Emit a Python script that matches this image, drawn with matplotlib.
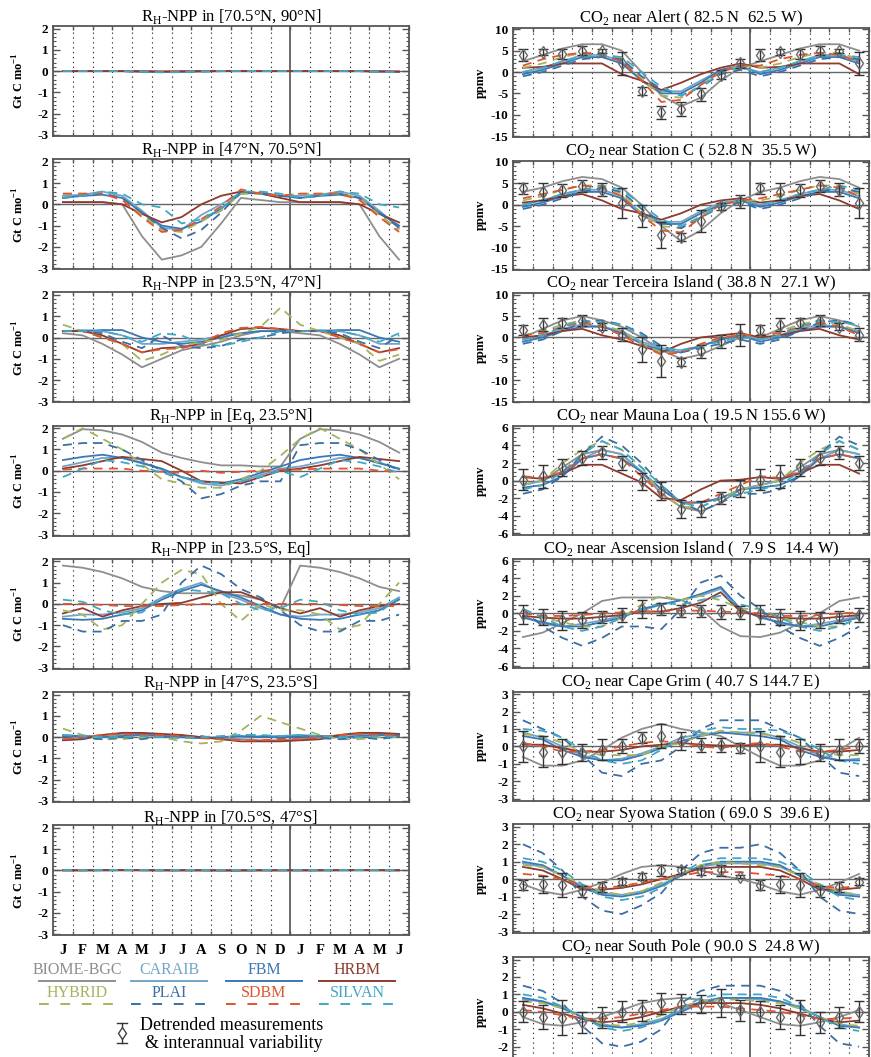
import matplotlib
matplotlib.use('Agg')
import matplotlib.pyplot as plt
import numpy as np
from matplotlib.lines import Line2D
from matplotlib.ticker import MultipleLocator, FixedLocator

plt.rcParams['font.family'] = ['Liberation Serif', 'DejaVu Serif']
plt.rcParams['mathtext.fontset'] = 'custom'
plt.rcParams['mathtext.rm'] = 'Liberation Serif'
plt.rcParams['axes.unicode_minus'] = False

# month labels, Jan of year 1 to Jun of year 2
months = ['J', 'F', 'M', 'A', 'M', 'J', 'J', 'A', 'S', 'O', 'N', 'D',
          'J', 'F', 'M', 'A', 'M', 'J']
models = ['BIOME-BGC', 'CARAIB', 'FBM', 'HRBM', 'HYBRID', 'PLAI', 'SDBM', 'SILVAN']
colors = {'BIOME-BGC': '#8e8e8e', 'CARAIB': '#72a6c8', 'FBM': '#3b78b5',
          'HRBM': '#8e3b2e', 'HYBRID': '#a5b45c', 'PLAI': '#3d6ea5',
          'SDBM': '#e0552e', 'SILVAN': '#40a8c4'}
dashed = ['HYBRID', 'PLAI', 'SDBM', 'SILVAN']

# ---- RH-NPP by latitude band, Gt C / month, Jan..Dec ----
npp_70N_90N = {
    'BIOME-BGC': [0.0, 0.0, 0.0, 0.0, -0.02, -0.04, -0.03, -0.01, 0.0, 0.0, 0.0, 0.0],
    'CARAIB': [0.0, 0.0, 0.0, 0.0, -0.01, -0.03, -0.03, -0.01, 0.0, 0.0, 0.0, 0.0],
    'FBM': [0.0, 0.0, 0.0, 0.0, -0.02, -0.03, -0.02, -0.01, 0.0, 0.0, 0.0, 0.0],
    'HRBM': [0.0, 0.0, 0.0, 0.0, -0.01, -0.02, -0.01, 0.0, 0.01, 0.0, 0.0, 0.0],
    'HYBRID': [0.0, 0.0, 0.0, 0.0, -0.02, -0.03, -0.02, 0.0, 0.0, 0.0, 0.0, 0.0],
    'PLAI': [0.0, 0.0, 0.0, 0.0, -0.02, -0.04, -0.03, -0.01, 0.0, 0.0, 0.0, 0.0],
    'SDBM': [0.0, 0.0, 0.0, 0.0, -0.01, -0.03, -0.02, -0.01, 0.0, 0.0, 0.0, 0.0],
    'SILVAN': [0.0, 0.0, 0.0, 0.0, -0.03, -0.06, -0.05, -0.02, 0.0, 0.0, 0.0, 0.0],
}
npp_47N_70N = {
    'BIOME-BGC': [0.1, 0.1, 0.1, 0.0, -1.5, -2.6, -2.4, -2.0, -0.9, 0.3, 0.2, 0.1],
    'CARAIB': [0.4, 0.45, 0.6, 0.4, -0.3, -1.1, -1.2, -0.5, 0.0, 0.55, 0.5, 0.4],
    'FBM': [0.3, 0.4, 0.45, 0.3, -0.4, -1.0, -1.15, -0.8, -0.2, 0.5, 0.55, 0.4],
    'HRBM': [0.1, 0.1, 0.1, 0.0, -0.45, -0.85, -0.6, 0.0, 0.4, 0.6, 0.5, 0.3],
    'HYBRID': [0.5, 0.5, 0.5, 0.3, -0.5, -1.2, -1.3, -0.8, -0.3, 0.5, 0.5, 0.4],
    'PLAI': [0.3, 0.4, 0.5, 0.3, -0.4, -1.1, -1.6, -1.2, -0.4, 0.6, 0.5, 0.4],
    'SDBM': [0.5, 0.5, 0.5, 0.2, -0.6, -1.3, -1.2, -0.7, -0.1, 0.7, 0.5, 0.4],
    'SILVAN': [0.3, 0.4, 0.6, 0.5, 0.0, -0.15, -0.9, -0.7, -0.2, 0.6, 0.6, 0.5],
}
npp_23N_47N = {
    'BIOME-BGC': [0.2, 0.1, -0.3, -0.8, -1.4, -1.0, -0.6, -0.4, -0.2, 0.1, 0.3, 0.3],
    'CARAIB': [0.3, 0.35, 0.3, 0.1, -0.3, -0.3, -0.2, -0.1, 0.1, 0.2, 0.3, 0.3],
    'FBM': [0.3, 0.3, 0.35, 0.35, 0.0, -0.2, -0.3, -0.2, 0.0, 0.2, 0.3, 0.3],
    'HRBM': [0.3, 0.3, 0.1, -0.3, -0.7, -0.5, -0.45, -0.3, 0.1, 0.4, 0.45, 0.4],
    'HYBRID': [0.6, 0.3, 0.0, -0.3, -1.1, -0.8, -0.4, -0.2, -0.1, 0.2, 0.5, 1.4],
    'PLAI': [0.3, 0.3, 0.2, -0.2, -0.5, 0.1, -0.4, -0.5, -0.4, -0.1, 0.0, 0.2],
    'SDBM': [0.3, 0.3, 0.0, -0.3, -0.7, -0.55, -0.5, -0.3, 0.2, 0.45, 0.5, 0.4],
    'SILVAN': [0.3, 0.3, 0.3, 0.1, -0.2, 0.2, 0.1, -0.3, -0.4, -0.2, 0.0, 0.3],
}
npp_eq_23N = {
    'BIOME-BGC': [1.5, 1.95, 1.9, 1.7, 1.35, 0.85, 0.6, 0.4, 0.25, 0.25, 0.2, 0.2],
    'CARAIB': [0.2, 0.4, 0.6, 0.6, 0.4, 0.05, -0.3, -0.6, -0.7, -0.5, -0.2, 0.1],
    'FBM': [0.5, 0.65, 0.75, 0.6, 0.35, 0.1, -0.3, -0.5, -0.6, -0.4, -0.1, 0.2],
    'HRBM': [0.1, 0.25, 0.45, 0.65, 0.55, 0.45, 0.0, -0.5, -0.55, -0.6, -0.3, 0.0],
    'HYBRID': [1.5, 2.0, 1.5, 1.0, 0.3, -0.4, -0.6, -0.8, -0.8, -0.4, 0.0, 0.7],
    'PLAI': [1.2, 1.3, 1.3, 1.0, 0.5, 0.0, -0.5, -1.3, -1.1, -0.7, -0.5, -0.5],
    'SDBM': [0.05, 0.1, 0.1, 0.1, 0.0, -0.05, -0.1, 0.0, -0.1, -0.05, 0.0, 0.05],
    'SILVAN': [-0.3, 0.1, 0.5, 0.4, 0.2, -0.1, -0.3, -0.5, -0.6, -0.5, -0.3, 0.0],
}
npp_23S_eq = {
    'BIOME-BGC': [1.8, 1.7, 1.5, 1.2, 0.8, 0.6, 0.5, 0.5, 0.5, 0.4, 0.2, -0.2],
    'CARAIB': [-0.6, -0.5, -0.5, -0.4, -0.2, 0.3, 0.7, 1.0, 0.5, 0.2, -0.2, -0.5],
    'FBM': [-0.7, -0.75, -0.7, -0.5, -0.3, 0.2, 0.6, 0.9, 0.6, 0.3, -0.1, -0.5],
    'HRBM': [-0.45, -0.2, -0.6, -0.3, -0.1, 0.0, 0.05, 0.3, 0.55, 0.55, 0.2, -0.2],
    'HYBRID': [-0.3, -0.5, -1.2, -1.0, 0.0, 1.0, 1.6, 1.4, 0.0, -0.8, 0.0, -0.3],
    'PLAI': [-1.0, -1.3, -1.3, -0.8, -0.8, -0.5, 1.0, 1.8, 1.4, 0.7, 0.3, -0.3],
    'SDBM': [0.0, 0.0, -0.05, -0.1, -0.1, -0.1, -0.05, 0.0, 0.0, 0.0, 0.0, 0.0],
    'SILVAN': [0.2, 0.1, -0.3, -0.5, -0.4, 0.3, 0.7, 0.6, 0.5, 0.0, -0.3, -0.2],
}
npp_47S_23S = {
    'BIOME-BGC': [-0.1, 0.0, 0.1, 0.15, 0.15, 0.1, 0.05, 0.0, -0.05, -0.1, -0.15, -0.15],
    'CARAIB': [0.1, 0.05, 0.0, 0.05, 0.1, 0.05, 0.0, -0.05, -0.05, 0.0, 0.05, 0.05],
    'FBM': [0.05, 0.05, 0.0, 0.05, 0.1, 0.05, 0.0, -0.05, 0.0, 0.05, 0.0, 0.0],
    'HRBM': [-0.15, -0.1, 0.1, 0.2, 0.2, 0.15, 0.1, 0.0, -0.1, -0.2, -0.2, -0.2],
    'HYBRID': [0.4, 0.1, -0.1, -0.1, 0.0, 0.0, -0.2, -0.3, -0.2, 0.3, 1.0, 0.7],
    'PLAI': [0.0, -0.05, -0.1, 0.0, -0.1, 0.05, 0.0, 0.05, -0.1, 0.1, 0.05, -0.05],
    'SDBM': [-0.1, 0.0, 0.1, 0.15, 0.1, 0.1, 0.05, -0.05, -0.1, -0.15, -0.15, -0.1],
    'SILVAN': [0.1, 0.05, 0.0, 0.0, 0.05, 0.0, -0.05, 0.0, 0.05, 0.1, 0.1, 0.05],
}
npp_70S_47S = {
    'BIOME-BGC': [0.0, 0.0, 0.0, 0.0, 0.0, 0.0, 0.0, 0.0, 0.0, 0.0, 0.0, 0.0],
    'CARAIB': [0.0, 0.0, 0.0, 0.0, 0.01, 0.0, 0.0, 0.0, 0.0, 0.0, 0.0, 0.0],
    'FBM': [0.0, 0.0, 0.0, 0.01, 0.01, 0.0, 0.0, 0.0, 0.0, 0.0, 0.0, 0.0],
    'HRBM': [0.0, 0.0, 0.01, 0.01, 0.0, 0.0, 0.0, 0.0, -0.01, -0.01, 0.0, 0.0],
    'HYBRID': [0.0, 0.0, 0.0, 0.0, 0.0, 0.0, 0.0, 0.0, 0.0, 0.01, 0.0, 0.0],
    'PLAI': [0.0, 0.0, 0.0, 0.0, 0.0, 0.0, 0.0, 0.0, 0.0, 0.0, 0.0, 0.0],
    'SDBM': [0.0, 0.0, 0.01, 0.01, 0.0, 0.0, 0.0, 0.0, -0.01, -0.01, 0.0, 0.0],
    'SILVAN': [0.0, 0.0, 0.0, 0.0, 0.0, 0.0, 0.0, 0.0, 0.0, 0.0, 0.0, 0.0],
}

# ---- CO2 at stations, ppmv, Jan..Dec ----
alert_obs = [4.0, 4.7, 4.3, 5.0, 5.0, 2.0, -4.4, -9.4, -8.6, -5.2, -0.6, 2.0]
alert_err = [1.5, 0.8, 1.2, 1.0, 0.5, 2.7, 1.0, 1.5, 1.7, 1.5, 1.0, 1.0]
alert = {
    'BIOME-BGC': [2.5, 4.0, 5.5, 6.5, 6.5, 5.0, 0.0, -5.5, -8.0, -6.0, -2.0, 1.0],
    'CARAIB': [0.0, 1.0, 2.5, 4.0, 4.0, 2.5, -2.0, -4.5, -4.5, -2.0, 0.5, 1.0],
    'FBM': [-0.5, 0.5, 2.0, 3.5, 3.5, 2.0, -2.0, -5.0, -5.0, -2.5, 0.5, 1.5],
    'HRBM': [1.0, 1.2, 2.0, 2.0, 2.0, -0.5, -2.0, -4.2, -2.5, -0.5, 1.0, 2.0],
    'HYBRID': [1.0, 2.0, 3.5, 4.5, 4.5, 3.0, -1.5, -5.5, -6.0, -3.0, 0.0, 1.5],
    'PLAI': [-1.0, 0.0, 1.5, 3.0, 3.5, 3.0, -1.0, -4.0, -5.5, -3.5, -0.5, 0.5],
    'SDBM': [1.5, 3.0, 4.0, 4.5, 4.0, 2.5, -2.0, -7.0, -6.5, -3.0, 0.0, 1.5],
    'SILVAN': [0.0, 1.0, 2.5, 3.5, 4.0, 3.5, 0.0, -3.5, -5.5, -3.5, 0.0, 1.0],
}
stationc_obs = [3.8, 3.0, 3.4, 4.4, 3.5, 0.4, -2.6, -7.1, -7.5, -3.8, -0.4, 0.8]
stationc_err = [1.2, 2.0, 1.5, 1.5, 1.5, 3.5, 2.5, 3.0, 1.0, 2.5, 0.8, 1.5]
stationc = {
    'BIOME-BGC': [3.0, 4.0, 5.5, 6.5, 6.0, 4.0, 0.0, -5.0, -8.5, -6.0, -2.0, 1.0],
    'CARAIB': [0.0, 1.0, 2.5, 3.5, 3.5, 2.0, -2.0, -4.0, -4.0, -1.5, 0.5, 1.0],
    'FBM': [-0.5, 0.5, 2.0, 3.0, 3.0, 1.5, -2.5, -4.5, -4.5, -2.0, 0.0, 1.0],
    'HRBM': [0.5, 1.0, 2.0, 2.5, 1.0, -1.0, -2.0, -3.5, -2.0, 0.0, 1.0, 1.5],
    'HYBRID': [1.0, 2.0, 3.5, 4.5, 4.5, 2.5, -2.0, -5.0, -5.5, -2.5, 0.0, 1.0],
    'PLAI': [-1.0, 0.0, 1.5, 3.0, 4.0, 3.0, -1.0, -4.0, -5.5, -3.0, -0.5, 0.5],
    'SDBM': [1.5, 2.5, 3.5, 4.5, 4.0, 2.0, -2.5, -6.0, -6.5, -3.0, 0.0, 1.0],
    'SILVAN': [0.0, 1.0, 2.5, 3.5, 4.5, 3.5, 0.0, -3.5, -5.0, -3.0, 0.0, 1.0],
}
terceira_obs = [1.7, 3.0, 3.3, 3.9, 2.5, 0.6, -2.8, -5.5, -5.7, -3.2, -0.9, 0.6]
terceira_err = [1.2, 1.5, 1.2, 1.3, 0.8, 1.5, 3.0, 3.8, 1.0, 1.5, 1.5, 2.5]
terceira = {
    'BIOME-BGC': [0.0, 2.0, 4.0, 5.0, 4.0, 2.5, 0.0, -3.0, -5.0, -4.0, -2.0, 0.0],
    'CARAIB': [-0.5, 0.5, 2.0, 3.0, 2.5, 1.5, -1.0, -2.5, -3.0, -2.0, -0.5, 0.5],
    'FBM': [-1.0, 0.0, 1.5, 2.5, 2.5, 1.0, -1.5, -3.0, -3.5, -2.0, -0.5, 0.5],
    'HRBM': [0.0, 0.5, 1.5, 2.0, 0.5, -0.5, -2.0, -3.5, -1.5, 0.0, 0.5, 1.0],
    'HYBRID': [0.5, 1.5, 3.0, 4.0, 3.0, 1.5, -1.5, -3.5, -3.5, -2.0, 0.0, 0.5],
    'PLAI': [-1.5, -0.5, 1.5, 3.5, 4.0, 3.0, 1.0, -2.0, -3.5, -2.5, -1.5, -0.5],
    'SDBM': [0.5, 1.0, 2.5, 3.5, 2.5, 0.5, -2.0, -4.0, -3.5, -1.5, 0.0, 0.5],
    'SILVAN': [-0.5, 0.5, 2.5, 4.0, 3.5, 3.0, 0.5, -2.5, -3.0, -2.0, -1.0, 0.0],
}
maunaloa_obs = [0.1, 0.5, 1.5, 2.6, 3.2, 2.0, -0.1, -1.2, -3.2, -3.2, -2.0, -0.9]
maunaloa_err = [1.2, 1.3, 1.0, 0.8, 0.7, 0.8, 1.0, 1.0, 1.0, 0.9, 0.7, 1.0]
maunaloa = {
    'BIOME-BGC': [-0.5, 0.0, 1.5, 3.0, 3.5, 3.0, 1.0, -1.5, -3.0, -3.5, -2.5, -1.0],
    'CARAIB': [-0.5, 0.0, 1.0, 2.5, 3.5, 3.0, 1.0, -1.0, -2.5, -2.5, -2.0, -1.0],
    'FBM': [-0.8, -0.5, 0.5, 2.5, 3.0, 2.5, 1.0, -1.0, -2.5, -2.5, -2.0, -1.0],
    'HRBM': [0.4, 0.2, 0.8, 1.8, 1.8, 0.8, -0.2, -2.0, -2.2, -1.0, 0.0, 0.1],
    'HYBRID': [-0.5, 0.0, 2.0, 3.5, 4.5, 3.5, 1.5, -1.5, -3.0, -3.0, -2.0, -1.0],
    'PLAI': [-1.5, -1.0, 0.5, 3.0, 5.0, 4.0, 2.0, -0.5, -2.5, -3.5, -2.5, -1.5],
    'SDBM': [0.5, 0.3, 1.0, 2.5, 3.0, 2.5, 0.5, -1.5, -2.5, -2.5, -1.5, -0.5],
    'SILVAN': [-1.0, -0.5, 1.0, 3.0, 4.5, 3.5, 1.5, -0.5, -2.5, -3.0, -2.0, -1.5],
}
ascension_obs = [-0.1, -0.4, -0.8, -0.8, -0.4, -0.2, 0.5, 0.5, 0.3, 0.3, 0.1, 0.1]
ascension_err = [1.1, 0.9, 1.1, 0.9, 0.7, 0.8, 1.0, 0.7, 0.7, 0.7, 0.8, 0.7]
ascension = {
    'BIOME-BGC': [-2.7, -2.2, -1.1, 0.0, 1.4, 1.8, 1.8, 1.8, 1.5, 0.5, -1.5, -2.6],
    'CARAIB': [-0.3, -1.2, -1.5, -1.2, -0.8, -0.3, 0.3, 1.0, 1.5, 2.0, 2.8, 0.3],
    'FBM': [-0.5, -1.0, -1.5, -1.5, -1.0, -0.5, 0.5, 1.0, 1.5, 2.2, 3.0, 0.5],
    'HRBM': [-0.3, -0.5, -0.6, -0.6, -0.4, -0.2, 0.2, 0.2, 0.6, 1.2, 2.4, 0.2],
    'HYBRID': [0.5, -0.5, -1.0, -1.5, -1.5, -0.5, 1.0, 2.0, 1.5, 2.0, 1.5, 0.5],
    'PLAI': [0.5, -1.5, -2.8, -3.7, -2.8, -1.5, -1.5, -1.8, 0.5, 3.5, 4.3, 2.0],
    'SDBM': [0.0, -0.3, -0.3, -0.2, 0.0, 0.1, 0.2, 0.2, 0.3, 0.3, 0.2, 0.1],
    'SILVAN': [0.5, -0.5, -1.5, -2.0, -1.5, -0.5, 0.5, 1.2, 1.0, 1.5, 2.0, 1.0],
}
capegrim_obs = [0.0, -0.3, -0.3, -0.35, -0.2, 0.0, 0.5, 0.6, 0.3, 0.1, 0.1, -0.1]
capegrim_err = [0.9, 0.9, 0.7, 0.5, 0.6, 0.4, 0.3, 0.7, 0.5, 0.4, 0.4, 0.3]
capegrim = {
    'BIOME-BGC': [-0.6, -1.1, -1.1, -0.8, -0.2, 0.5, 1.0, 1.3, 1.0, 0.8, 0.6, 0.0],
    'CARAIB': [0.8, 0.5, 0.0, -0.5, -0.8, -0.7, -0.4, 0.0, 0.5, 0.7, 0.8, 0.8],
    'FBM': [0.6, 0.4, -0.2, -0.6, -0.8, -0.8, -0.5, -0.1, 0.3, 0.6, 0.8, 0.7],
    'HRBM': [0.1, 0.1, -0.1, -0.3, -0.3, -0.2, 0.0, 0.1, 0.2, 0.1, 0.05, 0.05],
    'HYBRID': [0.7, 0.6, 0.2, -0.3, -0.5, -0.5, -0.5, 0.0, 0.2, 0.6, 0.9, 0.8],
    'PLAI': [1.5, 1.0, 0.5, -0.5, -1.5, -1.7, -1.0, -0.8, 0.0, 1.0, 1.5, 1.5],
    'SDBM': [0.2, 0.0, -0.3, -0.3, -0.2, 0.0, 0.2, 0.3, 0.2, 0.0, -0.1, 0.1],
    'SILVAN': [1.0, 0.9, 0.5, -0.2, -0.8, -1.0, -0.8, -0.2, 0.5, 0.9, 1.1, 1.0],
}
syowa_obs = [-0.35, -0.3, -0.35, -0.7, -0.45, -0.15, 0.15, 0.5, 0.5, 0.45, 0.5, 0.15]
syowa_err = [0.3, 0.5, 0.7, 0.3, 0.3, 0.2, 0.2, 0.3, 0.2, 0.2, 0.3, 0.1]
syowa = {
    'BIOME-BGC': [-0.3, -0.7, -0.9, -0.6, -0.2, 0.3, 0.7, 0.8, 0.7, 0.5, 0.2, 0.0],
    'CARAIB': [0.9, 0.7, 0.2, -0.4, -0.8, -0.9, -0.7, -0.3, 0.2, 0.7, 0.9, 0.9],
    'FBM': [1.0, 0.8, 0.2, -0.5, -0.9, -1.0, -0.8, -0.4, 0.2, 0.8, 1.0, 1.0],
    'HRBM': [0.7, 0.5, 0.0, -0.6, -0.6, -0.5, -0.3, 0.0, 0.3, 0.6, 0.7, 0.7],
    'HYBRID': [0.8, 0.7, 0.2, -0.3, -0.7, -0.9, -0.7, -0.2, 0.3, 0.8, 1.0, 0.9],
    'PLAI': [2.0, 1.5, 0.5, -1.0, -1.8, -2.0, -1.5, -0.8, 0.5, 1.5, 1.8, 1.8],
    'SDBM': [0.3, 0.2, 0.0, -0.4, -0.5, -0.4, -0.2, 0.0, 0.2, 0.4, 0.4, 0.4],
    'SILVAN': [1.2, 1.0, 0.5, -0.3, -1.0, -1.2, -1.0, -0.5, 0.3, 1.0, 1.2, 1.2],
}
southpole_obs = [0.0, -0.3, -0.35, -0.6, -0.3, 0.0, 0.1, 0.5, 0.45, 0.45, 0.5, 0.1]
southpole_err = [0.6, 0.7, 1.0, 0.6, 0.6, 0.6, 0.6, 0.6, 0.6, 0.5, 0.8, 0.6]
southpole = {
    'BIOME-BGC': [-0.3, -0.7, -0.8, -0.6, -0.3, 0.1, 0.5, 0.7, 0.8, 0.7, 0.5, 0.1],
    'CARAIB': [0.7, 0.6, 0.3, -0.3, -0.7, -0.9, -0.7, -0.4, 0.1, 0.6, 0.8, 0.8],
    'FBM': [0.8, 0.6, 0.2, -0.3, -0.8, -0.9, -0.8, -0.5, 0.0, 0.5, 0.8, 0.8],
    'HRBM': [0.4, 0.2, -0.1, -0.4, -0.6, -0.5, -0.3, 0.0, 0.3, 0.5, 0.5, 0.5],
    'HYBRID': [0.6, 0.5, 0.2, -0.3, -0.7, -0.8, -0.6, -0.2, 0.3, 0.6, 0.7, 0.7],
    'PLAI': [1.5, 1.2, 0.5, -0.8, -1.8, -2.0, -1.7, -1.0, 0.5, 1.2, 1.5, 1.5],
    'SDBM': [0.1, 0.0, -0.2, -0.4, -0.4, -0.3, -0.1, 0.1, 0.3, 0.3, 0.3, 0.2],
    'SILVAN': [1.0, 0.8, 0.3, -0.3, -0.9, -1.1, -0.9, -0.5, 0.2, 0.8, 1.0, 1.0],
}

deg = '\u00b0'
rh = r'R$_\mathregular{H}$-NPP in '
left_panels = [
    (rh + '[70.5%sN, 90%sN]' % (deg, deg), npp_70N_90N),
    (rh + '[47%sN, 70.5%sN]' % (deg, deg), npp_47N_70N),
    (rh + '[23.5%sN, 47%sN]' % (deg, deg), npp_23N_47N),
    (rh + '[Eq, 23.5%sN]' % deg, npp_eq_23N),
    (rh + '[23.5%sS, Eq]' % deg, npp_23S_eq),
    (rh + '[47%sS, 23.5%sS]' % (deg, deg), npp_47S_23S),
    (rh + '[70.5%sS, 47%sS]' % (deg, deg), npp_70S_47S),
]
co2 = r'CO$_\mathregular{2}$ near '
right_panels = [
    (co2 + 'Alert ( 82.5 N  62.5 W)', alert, alert_obs, alert_err, (-15.2, 10.3), 5, 1),
    (co2 + 'Station C ( 52.8 N  35.5 W)', stationc, stationc_obs, stationc_err, (-15.2, 10.3), 5, 1),
    (co2 + 'Terceira Island ( 38.8 N  27.1 W)', terceira, terceira_obs, terceira_err, (-15.2, 10.3), 5, 1),
    (co2 + 'Mauna Loa ( 19.5 N 155.6 W)', maunaloa, maunaloa_obs, maunaloa_err, (-6.2, 6.2), 2, 0.5),
    (co2 + 'Ascension Island (  7.9 S  14.4 W)', ascension, ascension_obs, ascension_err, (-6.2, 6.2), 2, 0.5),
    (co2 + 'Cape Grim ( 40.7 S 144.7 E)', capegrim, capegrim_obs, capegrim_err, (-3.1, 3.15), 1, 0.2),
    (co2 + 'Syowa Station ( 69.0 S  39.6 E)', syowa, syowa_obs, syowa_err, (-3.1, 3.15), 1, 0.2),
    (co2 + 'South Pole ( 90.0 S  24.8 W)', southpole, southpole_obs, southpole_err, (-3.1, 3.15), 1, 0.2),
]

W, H = 871, 1057
fig = plt.figure(figsize=(W / 100, H / 100), dpi=100)
x = np.arange(18) + 0.5
frame = '#555555'
dash_plot = (0, (5, 3.5))
dash_legend = (0, (5, 6))


def extend(v):
    # 18 months shown: Jan..Dec then Jan..Jun again
    return list(v) + list(v[:6])


def style_axes(ax, ylim, major, minor, ylabel):
    ax.set_xlim(0, 18)
    ax.set_ylim(*ylim)
    for m in range(1, 18):
        if m == 12:
            ax.axvline(m, color='#444444', lw=1.1, zorder=1)
        else:
            ax.axvline(m, color='#333333', lw=0.8, ls=(0, (1.2, 3.2)), zorder=1)
    ax.axhline(0, color='#666666', lw=1.0, zorder=1)
    ax.set_xticks(np.arange(0, 19))
    ax.set_xticklabels([])
    ax.yaxis.set_major_locator(MultipleLocator(major))
    ax.yaxis.set_minor_locator(MultipleLocator(minor))
    ax.tick_params(axis='both', which='major', direction='in', top=True, right=True,
                   length=5, width=1, color=frame, labelsize=9.5)
    ax.tick_params(axis='x', which='major', length=3)
    ax.tick_params(axis='y', which='minor', direction='in', right=True, length=2.5,
                   width=0.8, color=frame)
    for s in ax.spines.values():
        s.set_color(frame)
        s.set_linewidth(1.3)
    ax.set_ylabel(ylabel, fontsize=9, fontweight='bold')
    ax.yaxis.set_label_coords(-0.073, 0.5)


def bold_ticks(ax):
    for lab in ax.get_yticklabels():
        lab.set_fontweight('bold')


def draw_models(ax, data):
    for name in models:
        ls = dash_plot if name in dashed else '-'
        ax.plot(x, extend(data[name]), color=colors[name], lw=1.3, ls=ls, zorder=3)


# left column
for i, (title, data) in enumerate(left_panels):
    top = 26 + 133.2 * i
    ax = fig.add_axes([53 / W, 1 - (top + 110) / H, 356 / W, 110 / H])
    draw_models(ax, data)
    style_axes(ax, (-3.05, 2.12), 1, 0.2, r'Gt C mo$^\mathregular{-1}$')
    bold_ticks(ax)
    ax.set_title(title, fontsize=12, pad=2)
    if i == len(left_panels) - 1:
        ax.set_xticks(x, months, minor=True)
        ax.tick_params(axis='x', which='minor', length=0, labelsize=10.5, pad=6)
        for lab in ax.get_xticklabels(minor=True):
            lab.set_fontweight('bold')

# right column
for i, (title, data, obs, err, ylim, major, minor) in enumerate(right_panels):
    top = 28 + 132.7 * i
    ax = fig.add_axes([513 / W, 1 - (top + 109) / H, 356 / W, 109 / H])
    draw_models(ax, data)
    ax.errorbar(x, extend(obs), yerr=extend(err), fmt='d', mfc='none', mec='#6a6a6a',
                ms=6, mew=1, ecolor='#333333', elinewidth=1, capsize=3.5, capthick=1,
                zorder=5)
    style_axes(ax, ylim, major, minor, 'ppmv')
    if i == len(right_panels) - 1:
        # the lowest panel runs past the page edge; its -3 label is not shown
        ax.yaxis.set_major_locator(FixedLocator([-2, -1, 0, 1, 2, 3]))
    bold_ticks(ax)
    ax.set_title(title, fontsize=12, pad=2)


def fx(px):
    return px / W


def fy(py):
    return 1 - py / H


# legend for the models
legend_rows = [['BIOME-BGC', 'CARAIB', 'FBM', 'HRBM'],
               ['HYBRID', 'PLAI', 'SDBM', 'SILVAN']]
col_centers = [77, 169, 264, 357]
for r, row in enumerate(legend_rows):
    ty = 970 + 23 * r
    ly = ty + 11
    for c, name in enumerate(row):
        cx = col_centers[c]
        fig.text(fx(cx), fy(ty), name, color=colors[name], fontsize=11.5,
                 ha='center', va='center')
        ls = dash_legend if name in dashed else '-'
        fig.add_artist(Line2D([fx(cx - 38), fx(cx + 38)], [fy(ly), fy(ly)],
                              color=colors[name], lw=1.4, ls=ls))

# measurement legend
ex = 122
fig.add_artist(Line2D([fx(ex), fx(ex)], [fy(1023), fy(1043)], color='#333333', lw=1))
fig.add_artist(Line2D([fx(ex - 5), fx(ex + 5)], [fy(1023), fy(1023)], color='#333333', lw=1))
fig.add_artist(Line2D([fx(ex - 5), fx(ex + 5)], [fy(1043), fy(1043)], color='#333333', lw=1))
fig.add_artist(Line2D([fx(ex)], [fy(1033)], marker='d', mfc='white', mec='#444444', ms=6,
                      ls='none'))
fig.text(fx(140), fy(1026), 'Detrended measurements', fontsize=13, ha='left', va='center')
fig.text(fx(145), fy(1043), '& interannual variability', fontsize=13, ha='left', va='center')

fig.savefig('out.png', dpi=100)
